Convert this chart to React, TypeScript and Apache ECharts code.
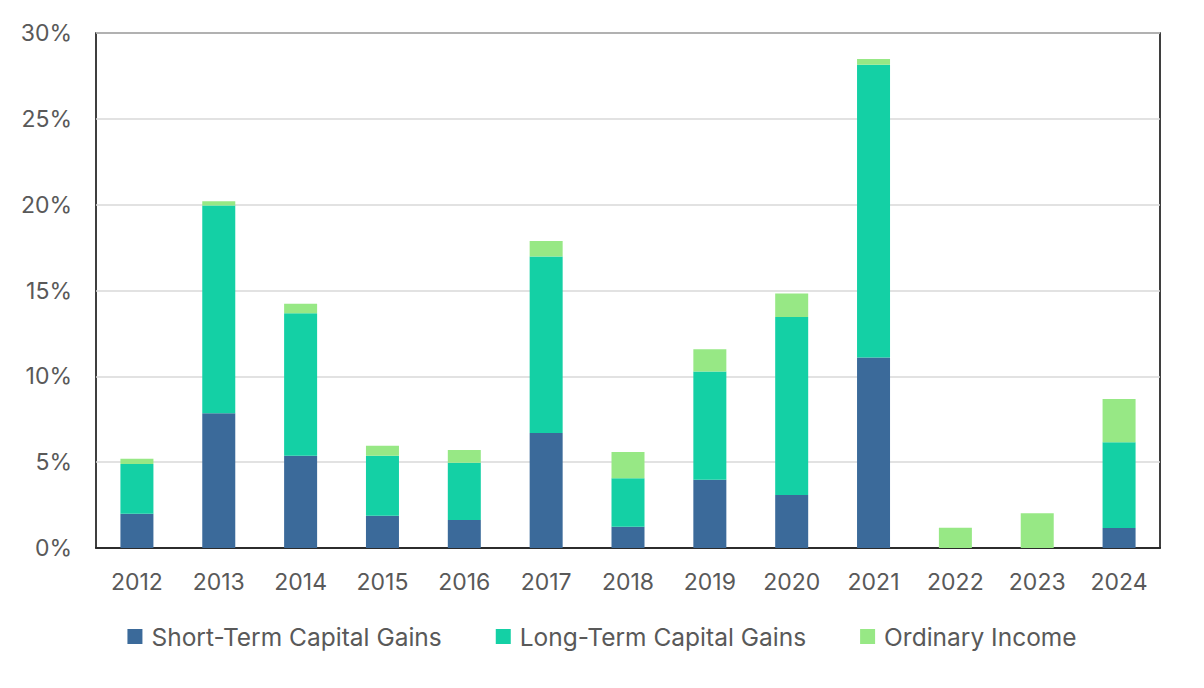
import React, { useEffect, useRef } from "react";
import * as echarts from "echarts";

const years = ["2012","2013","2014","2015","2016","2017","2018","2019","2020","2021","2022","2023","2024"];
const shortTerm = [2.0, 7.85, 5.38, 1.88, 1.63, 6.7, 1.24, 3.98, 3.09, 11.09, 0, 0, 1.17];
const longTerm = [2.9, 12.1, 8.3, 3.5, 3.34, 10.28, 2.82, 6.3, 10.37, 17.06, 0, 0, 4.99];
const ordinary = [0.3, 0.25, 0.55, 0.58, 0.74, 0.91, 1.53, 1.3, 1.36, 0.33, 1.18, 2.02, 2.52];
const seriesNames = ["Short-Term Capital Gains", "Long-Term Capital Gains", "Ordinary Income"];
const colors = ["#3B6A9A", "#14D0A5", "#97E885"];

const FONT = "Inter";
const TEXT = "#595959";

export default function App() {
  const ref = useRef<HTMLDivElement>(null);
  useEffect(() => {
    if (!ref.current) return;
    const chart = echarts.init(ref.current, null, { renderer: "svg" });
    const datasets = [shortTerm, longTerm, ordinary];
    chart.setOption({
      animation: false,
      grid: { left: 88, top: 25, right: 36, bottom: 132, show: true, borderColor: "#000", borderWidth: 1.5, containLabel: false },
      legend: {
        data: seriesNames,
        left: "center",
        top: 611,
        itemWidth: 15,
        itemHeight: 15,
        itemGap: 54,
        icon: "rect",
        textStyle: { fontFamily: FONT, fontSize: 24.5, color: TEXT, padding: [0, 0, 0, 4] },
      },
      xAxis: {
        type: "category",
        data: years,
        axisLine: { show: true, lineStyle: { color: "#000", width: 1.5 } },
        axisTick: { show: false },
        axisLabel: { fontFamily: FONT, fontSize: 23, color: TEXT, margin: 22 },
      },
      yAxis: {
        type: "value",
        min: 0,
        max: 30,
        interval: 5,
        axisLine: { show: false },
        axisTick: { show: false },
        splitLine: { lineStyle: { color: "#D9D9D9", width: 1.5 } },
        axisLabel: { fontFamily: FONT, fontSize: 23, color: TEXT, margin: 24, formatter: "{value}%" },
      },
      series: seriesNames.map((name, i) => ({
        name,
        type: "bar",
        stack: "total",
        barWidth: 33,
        data: datasets[i],
        itemStyle: { color: colors[i] },
      })),
    });
    return () => chart.dispose();
  }, []);
  return <div ref={ref} style={{ width: 1188, height: 672 }} />;
}
